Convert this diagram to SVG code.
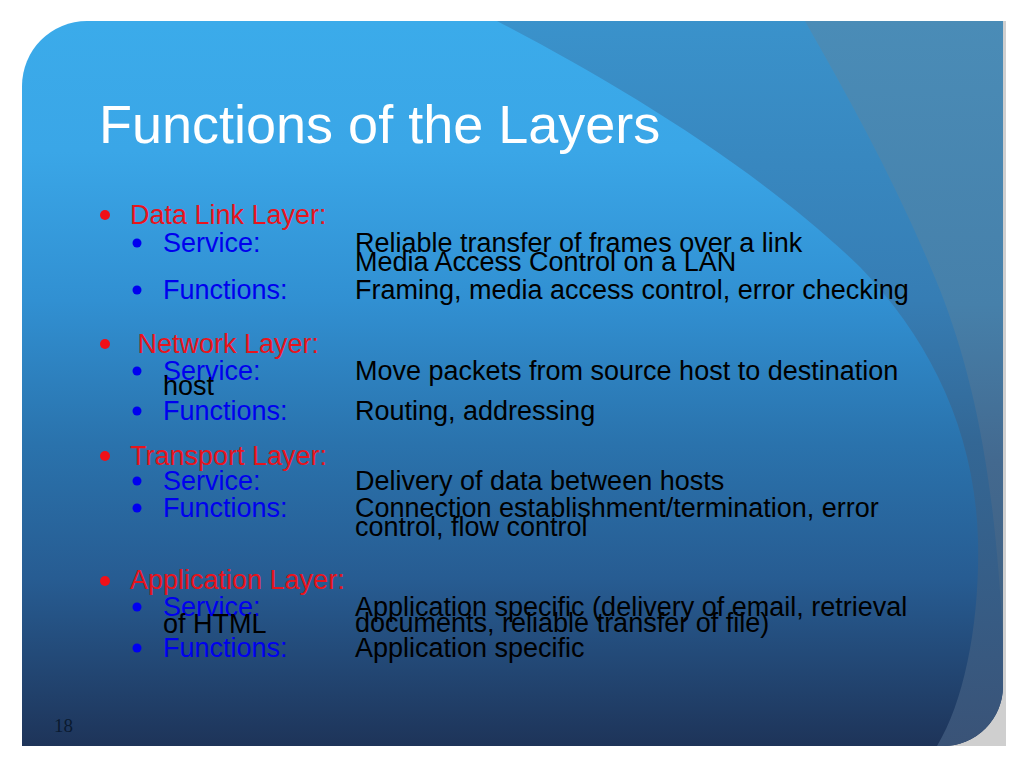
<svg xmlns="http://www.w3.org/2000/svg" width="1024" height="768" viewBox="0 0 1024 768">
  <defs>
    <linearGradient id="base" x1="0" y1="21" x2="0" y2="746" gradientUnits="userSpaceOnUse">
      <stop offset="0" stop-color="#3babea"/>
      <stop offset="0.18" stop-color="#3aa6e7"/>
      <stop offset="0.385" stop-color="#3190d2"/>
      <stop offset="0.58" stop-color="#2a73ad"/>
      <stop offset="0.77" stop-color="#275c92"/>
      <stop offset="1" stop-color="#1e3459"/>
    </linearGradient>
    <linearGradient id="ovA" x1="0" y1="21" x2="0" y2="746" gradientUnits="userSpaceOnUse">
      <stop offset="0" stop-color="#3a92cb"/>
      <stop offset="0.385" stop-color="#367db4"/>
      <stop offset="0.58" stop-color="#336795"/>
      <stop offset="1" stop-color="#3a5377"/>
    </linearGradient>
    <linearGradient id="ovB" x1="0" y1="21" x2="0" y2="650" gradientUnits="userSpaceOnUse">
      <stop offset="0" stop-color="#4a8cb7"/>
      <stop offset="0.45" stop-color="#4680aa"/>
      <stop offset="0.7" stop-color="#43698f"/>
      <stop offset="1" stop-color="#3f5f80"/>
    </linearGradient>
    <clipPath id="panelClip">
      <path d="M22,86 A65,65 0 0 1 87,21 L1003,21 L1003,686 A60,60 0 0 1 943,746 L22,746 Z"/>
    </clipPath>
  </defs>
  <style>
    .body { font-family: "Liberation Sans", Arial, sans-serif; font-size: 27px; }
    .head { fill: #e8141c; }
    .sub { fill: #0000ee; }
    .txt { fill: #000000; }
    .hb { fill: #f01018; }
    .sb { fill: #0000f0; }
  </style>
  <rect width="1024" height="768" fill="#ffffff"/>
  <g id="background">
    <rect x="940" y="21" width="66" height="725" fill="#cfcfcf"/>
    <g clip-path="url(#panelClip)">
      <rect x="22" y="21" width="981" height="725" fill="url(#base)"/>
      <path d="M497,21 C620,85 760,170 860,267 C930,340 975,430 978,540 C980,620 965,700 937,746 L1003,746 L1003,21 Z" fill="url(#ovA)"/>
      <path d="M805,21 C850,100 900,190 940,290 C975,380 995,480 1003,640 L1003,21 Z" fill="url(#ovB)"/>
    </g>
  </g>
  <g id="title">
    <text x="99" y="143" font-family="Liberation Sans, Arial, sans-serif" font-size="54" fill="#ffffff">Functions of the Layers</text>
  </g>
  <g id="data-link" class="body">
    <circle cx="105" cy="215" r="5" class="hb"/>
    <text x="130" y="224" class="head">Data Link Layer:</text>
    <circle cx="137" cy="243" r="4.5" class="sb"/>
    <text x="163" y="252" class="sub">Service:</text>
    <text x="355" y="252" class="txt">Reliable transfer of frames over a link</text>
    <text x="355" y="271" class="txt">Media Access Control on a LAN</text>
    <circle cx="137" cy="290" r="4.5" class="sb"/>
    <text x="163" y="299" class="sub">Functions:</text>
    <text x="355" y="299" class="txt">Framing, media access control, error checking</text>
  </g>
  <g id="network" class="body">
    <circle cx="105" cy="344" r="5" class="hb"/>
    <text x="130" y="353" class="head" xml:space="preserve"> Network Layer:</text>
    <circle cx="137" cy="371" r="4.5" class="sb"/>
    <text x="163" y="380" class="sub">Service:</text>
    <text x="355" y="380" class="txt">Move packets from source host to destination</text>
    <text x="163" y="395" class="txt">host</text>
    <circle cx="137" cy="411" r="4.5" class="sb"/>
    <text x="163" y="420" class="sub">Functions:</text>
    <text x="355" y="420" class="txt">Routing, addressing</text>
  </g>
  <g id="transport" class="body">
    <circle cx="105" cy="456" r="5" class="hb"/>
    <text x="130" y="465" class="head">Transport Layer:</text>
    <circle cx="137" cy="481" r="4.5" class="sb"/>
    <text x="163" y="490" class="sub">Service:</text>
    <text x="355" y="490" class="txt">Delivery of data between hosts</text>
    <circle cx="137" cy="508" r="4.5" class="sb"/>
    <text x="163" y="517" class="sub">Functions:</text>
    <text x="355" y="517" class="txt">Connection establishment/termination, error</text>
    <text x="355" y="536" class="txt">control, flow control</text>
  </g>
  <g id="application" class="body">
    <circle cx="105" cy="581" r="5" class="hb"/>
    <text x="130" y="589" class="head">Application Layer:</text>
    <circle cx="137" cy="607" r="4.5" class="sb"/>
    <text x="163" y="616" class="sub">Service:</text>
    <text x="355" y="616" class="txt">Application specific (delivery of email, retrieval</text>
    <text x="163" y="633" class="txt">of HTML</text>
    <text x="355" y="632" class="txt">documents, reliable transfer of file)</text>
    <circle cx="137" cy="648" r="4.5" class="sb"/>
    <text x="163" y="657" class="sub">Functions:</text>
    <text x="355" y="657" class="txt">Application specific</text>
  </g>
  <g id="page-number">
    <text x="54" y="732" font-family="Liberation Serif, 'Times New Roman', serif" font-size="19" fill="#0a1a30">18</text>
  </g>
</svg>
